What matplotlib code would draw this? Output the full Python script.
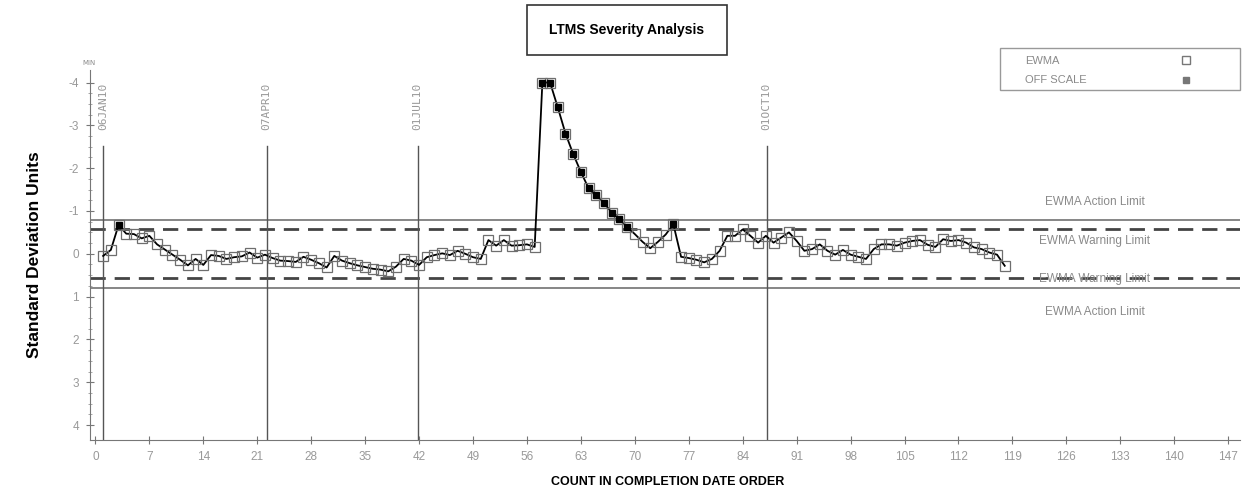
import numpy as np
import matplotlib
matplotlib.use('Agg')
import matplotlib.pyplot as plt
from matplotlib.patches import Rectangle
from matplotlib.lines import Line2D

# EWMA values (standard deviation units, 1..118)
ewma = [0.05, -0.09, -0.67, -0.47, -0.46, -0.36, -0.42, -0.22, -0.10, 0.02,
        0.14, 0.27, 0.12, 0.26, 0.03, 0.05, 0.12, 0.08, 0.06, -0.03,
        0.09, 0.02, 0.10, 0.16, 0.17, 0.19, 0.07, 0.14, 0.22, 0.32,
        0.05, 0.16, 0.22, 0.27, 0.31, 0.35, 0.37, 0.41, 0.30, 0.12,
        0.16, 0.26, 0.08, 0.03, -0.01, 0.03, -0.07, 0.00, 0.08, 0.12,
        -0.32, -0.19, -0.32, -0.19, -0.20, -0.22, -0.16, -4.0, -4.0, -3.42,
        -2.81, -2.33, -1.91, -1.53, -1.37, -1.19, -0.96, -0.81, -0.63, -0.46,
        -0.28, -0.13, -0.28, -0.45, -0.69, 0.07, 0.10, 0.14, 0.20, 0.12,
        -0.07, -0.42, -0.42, -0.57, -0.42, -0.26, -0.42, -0.26, -0.38, -0.50,
        -0.30, -0.07, -0.11, -0.22, -0.07, 0.02, -0.09, 0.02, 0.07, 0.12,
        -0.11, -0.22, -0.22, -0.19, -0.26, -0.30, -0.32, -0.21, -0.16, -0.34,
        -0.30, -0.32, -0.26, -0.15, -0.11, -0.03, 0.02, 0.28]
count = np.arange(1, len(ewma) + 1)

action_limits = [-0.80, 0.79]
warning_limits = [-0.58, 0.56]
date_pos = [1.04, 22.2, 41.8, 87.1]
date_labels = ['06JAN10', '07APR10', '01JUL10', '01OCT10']
xticks = np.arange(0, 148, 7)
yticks = np.arange(-4, 5)

font = 'Liberation Sans'
grey = '#8a8a8a'

ewma = np.array(ewma)
shown = np.clip(ewma, -4, 4)
flag = np.abs(ewma) > 0.6

fig = plt.figure(figsize=(12.47, 4.97), dpi=100)
ax = fig.add_axes([0.0722, 0.1147, 0.922, 0.745])

# limits
for a in action_limits:
    ax.axhline(a, color='#666666', lw=1.1, zorder=1)
for w in warning_limits:
    ax.axhline(w, color='#444444', lw=2, ls=(0, (5.5, 3.2)), zorder=1)

# date reference lines
for p, lab in zip(date_pos, date_labels):
    ax.plot([p, p], [-2.51, 4.4], color='#555555', lw=1, zorder=1)
    ax.text(p, -3.44, lab, rotation=90, ha='center', va='center',
            fontsize=8, color='#999999', family='DejaVu Sans Mono')

ax.plot(count, shown, color='black', lw=1.3, zorder=3)
ax.plot(count, shown, 's', mfc='none', mec='#6e6e6e', ms=6.5, mew=0.9, zorder=4)
ax.plot(count[flag], shown[flag], 's', color='black', ms=5, zorder=5)

lab_x = 129.7
ax.text(lab_x, -1.21, 'EWMA Action Limit', ha='center', va='center', fontsize=8.5, color=grey, family=font)
ax.text(lab_x, -0.30, 'EWMA Warning Limit', ha='center', va='center', fontsize=8.5, color=grey, family=font)
ax.text(lab_x, 0.58, 'EWMA Warning Limit', ha='center', va='center', fontsize=8.5, color=grey, family=font)
ax.text(lab_x, 1.35, 'EWMA Action Limit', ha='center', va='center', fontsize=8.5, color=grey, family=font)

ax.set_xlim(-0.7, 148.5)
ax.set_ylim(4.35, -4.3)
ax.set_xticks(xticks)
ax.set_xticklabels([str(t) for t in xticks], fontsize=8.5, color='#999999', family=font)
ax.set_yticks(yticks)
ax.set_yticklabels([str(t) if t >= 0 else '-' + str(-t) for t in yticks], fontsize=8.5, color='#999999', family=font)
ax.set_yticks(np.arange(-4, 4.01, 0.25), minor=True)
ax.tick_params(axis='both', which='major', direction='inout', length=6, color='#777777', pad=5)
ax.tick_params(axis='y', which='minor', direction='inout', length=3, color='#999999')
for s in ['top', 'right']:
    ax.spines[s].set_visible(False)
for s in ['left', 'bottom']:
    ax.spines[s].set_color('#777777')

fig.text(35 / 1247, 1 - 255 / 497, 'Standard Deviation Units', rotation=90,
         ha='center', va='center', fontsize=12.5, fontweight='bold', family=font)
fig.text(668 / 1247, 1 - 482 / 497, 'COUNT IN COMPLETION DATE ORDER',
         ha='center', va='center', fontsize=9, fontweight='bold', family=font)
fig.text(89 / 1247, 1 - 63 / 497, 'MIN', ha='center', va='center', fontsize=5, color=grey)

# title box
fig.patches.append(Rectangle((527 / 1247, 1 - 55 / 497), 200 / 1247, 50 / 497,
                             transform=fig.transFigure, fill=False, ec='#333333', lw=1.2))
fig.text(627 / 1247, 1 - 30 / 497, 'LTMS Severity Analysis', ha='center', va='center',
         fontsize=10, fontweight='bold', family=font)

# legend box
fig.patches.append(Rectangle((1000 / 1247, 1 - 90 / 497), 240 / 1247, 42 / 497,
                             transform=fig.transFigure, fill=False, ec='#999999', lw=1))
fig.text(1025 / 1247, 1 - 61 / 497, 'EWMA', va='center', fontsize=8, color=grey, family=font)
fig.text(1025 / 1247, 1 - 80 / 497, 'OFF SCALE', va='center', fontsize=8, color=grey, family=font)
fig.lines.append(Line2D([1186 / 1247], [1 - 60 / 497], marker='s', mfc='none', mec='#777777',
                        ms=6, transform=fig.transFigure))
fig.lines.append(Line2D([1186 / 1247], [1 - 80 / 497], marker='s', color='#777777',
                        ms=5, transform=fig.transFigure))

fig.savefig('out.png', dpi=100)
